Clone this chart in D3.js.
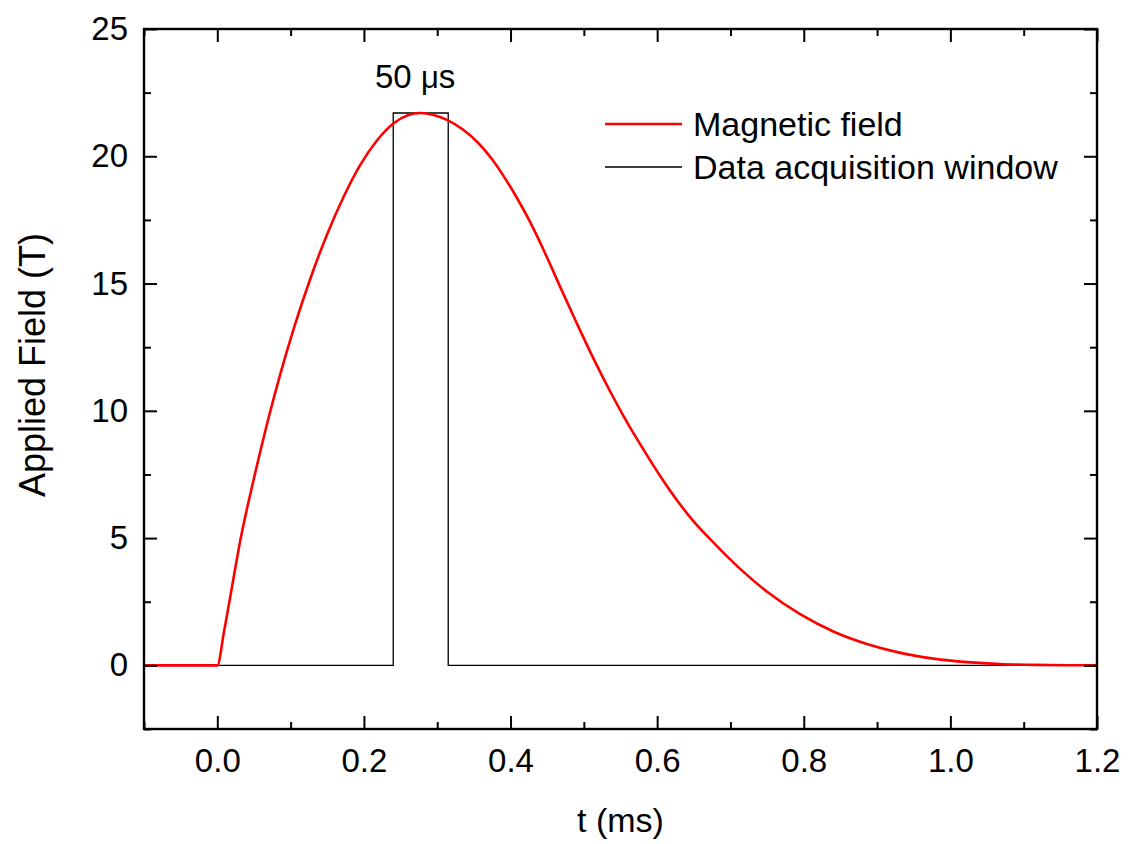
<!DOCTYPE html>
<html>
<head>
<meta charset="utf-8">
<script src="https://cdn.jsdelivr.net/npm/d3@7"></script>
<style>
  body { margin: 0; background: #fff; }
  svg text { font-family: Arial, "Liberation Sans", sans-serif; fill: #000; }
</style>
</head>
<body>
<div id="chart"></div>
<script>
// magnetic field pulse
const fieldTime = [-0.1, 0, 0.009, 0.018, 0.032, 0.05, 0.068, 0.086, 0.105, 0.127, 0.15, 0.173, 0.195, 0.218, 0.241, 0.26, 0.277,
  0.295, 0.314, 0.335, 0.355, 0.373, 0.391, 0.409, 0.427, 0.447, 0.468, 0.491, 0.514, 0.537, 0.559, 0.582, 0.605, 0.628, 0.65,
  0.673, 0.694, 0.714, 0.75, 0.795, 0.841, 0.886, 0.932, 0.977, 1.023, 1.068, 1.114, 1.159, 1.2];
const fieldValue = [0, 0, 1.3, 2.75, 5.0, 7.35, 9.5, 11.45, 13.3, 15.2, 16.95, 18.45, 19.66, 20.63, 21.31, 21.615, 21.7,
  21.62, 21.42, 21.05, 20.55, 19.95, 19.2, 18.35, 17.4, 16.2, 14.85, 13.4, 12.0, 10.7, 9.55, 8.45, 7.4, 6.45, 5.65,
  4.94, 4.32, 3.77, 2.89, 2.01, 1.32, 0.84, 0.49, 0.265, 0.127, 0.05, 0.02, 0.005, 0];

// data acquisition window
const windowTime = [-0.1, 0.24, 0.24, 0.315, 0.315, 1.2];
const windowValue = [0, 0, 21.7, 21.7, 0, 0];

const xMajor = [0, 0.2, 0.4, 0.6, 0.8, 1.0, 1.2];
const xMinor = [-0.1, 0.1, 0.3, 0.5, 0.7, 0.9, 1.1];
const yMajor = [0, 5, 10, 15, 20, 25];
const yMinor = [-2.5, 2.5, 7.5, 12.5, 17.5, 22.5];

const legendLabels = ["Magnetic field", "Data acquisition window"];

const width = 1134;
const height = 844;
const marginTop = 29;
const marginRight = 37;
const marginBottom = 115;
const marginLeft = 144;

const x = d3.scaleLinear().domain([-0.1, 1.2]).range([marginLeft, width - marginRight]);
const y = d3.scaleLinear().domain([-2.5, 25]).range([height - marginBottom, marginTop]);

const svg = d3.create("svg")
  .attr("width", width)
  .attr("height", height)
  .attr("viewBox", [0, 0, width, height]);

const line = d3.line()
  .x((d) => x(d[0]))
  .y((d) => y(d[1]));

// window (black thin)
svg.append("path")
  .datum(windowTime.map((t, i) => [t, windowValue[i]]))
  .attr("fill", "none")
  .attr("stroke", "#000")
  .attr("stroke-width", 1.3)
  .attr("d", line);

// field (red)
svg.append("path")
  .datum(fieldTime.map((t, i) => [t, fieldValue[i]]))
  .attr("fill", "none")
  .attr("stroke", "#ff0000")
  .attr("stroke-width", 2.6)
  .attr("stroke-linejoin", "round")
  .attr("d", line.curve(d3.curveMonotoneX));

// axes, ticks inward on all sides
function styleAxis(g) {
  g.select(".domain").remove();
  g.selectAll(".tick line").attr("stroke", "#000").attr("stroke-width", 2);
  g.selectAll(".tick text").attr("font-size", 33);
}

svg.append("g")
  .attr("transform", `translate(0,${y(-2.5)})`)
  .call(d3.axisBottom(x).tickValues(xMajor).tickSizeInner(-13).tickPadding(20).tickFormat(d3.format(".1f")))
  .call(styleAxis);
svg.append("g")
  .attr("transform", `translate(0,${y(-2.5)})`)
  .call(d3.axisBottom(x).tickValues(xMinor).tickSizeInner(-7).tickFormat(""))
  .call(styleAxis);
svg.append("g")
  .attr("transform", `translate(0,${y(25)})`)
  .call(d3.axisTop(x).tickValues(xMajor).tickSizeInner(-13).tickFormat(""))
  .call(styleAxis);
svg.append("g")
  .attr("transform", `translate(0,${y(25)})`)
  .call(d3.axisTop(x).tickValues(xMinor).tickSizeInner(-7).tickFormat(""))
  .call(styleAxis);

svg.append("g")
  .attr("transform", `translate(${x(-0.1)},0)`)
  .call(d3.axisLeft(y).tickValues(yMajor).tickSizeInner(-13).tickPadding(16).tickFormat(d3.format("d")))
  .call(styleAxis);
svg.append("g")
  .attr("transform", `translate(${x(-0.1)},0)`)
  .call(d3.axisLeft(y).tickValues(yMinor).tickSizeInner(-7).tickFormat(""))
  .call(styleAxis);
svg.append("g")
  .attr("transform", `translate(${x(1.2)},0)`)
  .call(d3.axisRight(y).tickValues(yMajor).tickSizeInner(-13).tickFormat(""))
  .call(styleAxis);
svg.append("g")
  .attr("transform", `translate(${x(1.2)},0)`)
  .call(d3.axisRight(y).tickValues(yMinor).tickSizeInner(-7).tickFormat(""))
  .call(styleAxis);

// frame
svg.append("rect")
  .attr("x", x(-0.1))
  .attr("y", y(25))
  .attr("width", x(1.2) - x(-0.1))
  .attr("height", y(-2.5) - y(25))
  .attr("fill", "none")
  .attr("stroke", "#000")
  .attr("stroke-width", 2.4);

// axis titles
svg.append("text")
  .attr("x", (x(-0.1) + x(1.2)) / 2)
  .attr("y", 832)
  .attr("text-anchor", "middle")
  .attr("font-size", 34)
  .text("t (ms)");

svg.append("text")
  .attr("transform", `translate(45,${(y(-2.5) + y(25)) / 2 - 14}) rotate(-90)`)
  .attr("text-anchor", "middle")
  .attr("font-size", 36)
  .text("Applied Field (T)");

// window width annotation
const ann = svg.append("text")
  .attr("x", 375)
  .attr("y", 88)
  .attr("font-size", 33);
ann.append("tspan").text("50 ");
ann.append("tspan").attr("font-size", 31).text("μ");
ann.append("tspan").text("s");

// legend
const legendColors = ["#ff0000", "#000"];
const legendWidths = [2.6, 1.3];
const legend = svg.append("g")
  .selectAll("g")
  .data(legendLabels)
  .join("g")
  .attr("transform", (d, i) => `translate(605,${124 + i * 43})`);
legend.append("line")
  .attr("x1", 0).attr("x2", 77)
  .attr("stroke", (d, i) => legendColors[i])
  .attr("stroke-width", (d, i) => legendWidths[i]);
legend.append("text")
  .attr("x", 88)
  .attr("dy", "0.35em")
  .attr("font-size", 34)
  .text((d) => d);

document.getElementById("chart").append(svg.node());
</script>
</body>
</html>
